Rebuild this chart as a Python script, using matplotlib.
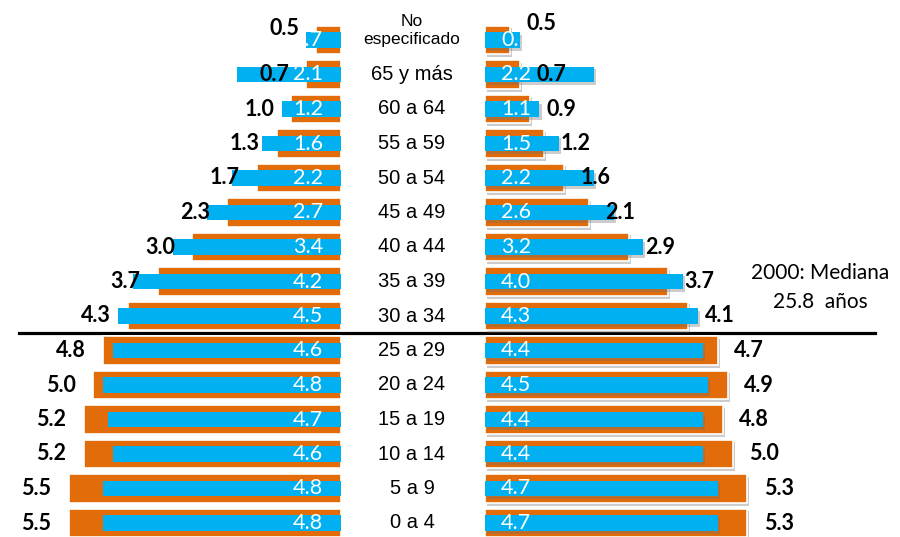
import matplotlib
matplotlib.use("Agg")
import matplotlib.pyplot as plt
import matplotlib.patheffects as pe
import matplotlib.transforms as mtransforms
from matplotlib.lines import Line2D

# age groups, read top to bottom as in the picture
grupos = ["No\nespecificado", "65 y más", "60 a 64", "55 a 59", "50 a 54",
          "45 a 49", "40 a 44", "35 a 39", "30 a 34", "25 a 29",
          "20 a 24", "15 a 19", "10 a 14", "5 a 9", "0 a 4"]
# orange = 2000, blue = later census (percent of population)
hombres_2000 = [0.5, 0.7, 1.0, 1.3, 1.7, 2.3, 3.0, 3.7, 4.3, 4.8, 5.0, 5.2, 5.2, 5.5, 5.5]
hombres_nuevo = [0.7, 2.1, 1.2, 1.6, 2.2, 2.7, 3.4, 4.2, 4.5, 4.6, 4.8, 4.7, 4.6, 4.8, 4.8]
mujeres_2000 = [0.5, 0.7, 0.9, 1.2, 1.6, 2.1, 2.9, 3.7, 4.1, 4.7, 4.9, 4.8, 5.0, 5.3, 5.3]
mujeres_nuevo = [0.7, 2.2, 1.1, 1.5, 2.2, 2.6, 3.2, 4.0, 4.3, 4.4, 4.5, 4.4, 4.4, 4.7, 4.7]
mediana_txt = "2000: Mediana\n25.8  años"

NARANJA = "#E36C0A"
AZUL = "#00B0F0"
W, H = 900, 537
PX_UNIT = 49.5      # pixels per percent point
ROW = 34.5          # pixels per row
Y0 = 523            # pixel row of the bottom group

n = len(grupos)
ys = [n - 1 - i for i in range(n)]
ylim = (-(H - Y0) / ROW, Y0 / ROW)

fig = plt.figure(figsize=(W / 100, H / 100), dpi=100)
fig.patch.set_facecolor("white")

x_left_end, x_right_start = 341, 485
ax_l = fig.add_axes([0, 0, x_left_end / W, 1])
ax_r = fig.add_axes([x_right_start / W, 0, 1 - x_right_start / W, 1])
ax_l.set_xlim(x_left_end / PX_UNIT, 0)
ax_r.set_xlim(0, (W - x_right_start) / PX_UNIT)
for ax in (ax_l, ax_r):
    ax.set_ylim(*ylim)
    ax.axis("off")
    ax.patch.set_alpha(0)

shadow = [pe.SimplePatchShadow(offset=(1.5, -2), shadow_rgbFace="#6e6e6e", alpha=0.35),
          pe.Normal()]

# left side (hombres)
ax_l.barh(ys, hombres_2000, height=0.84, color=NARANJA, edgecolor="white", linewidth=1.2, zorder=2)
ax_l.barh(ys, hombres_nuevo, height=0.46, color=AZUL, linewidth=0, zorder=3)

# right side (mujeres), with drop shadows
bo = ax_r.barh(ys, mujeres_2000, height=0.84, color=NARANJA, edgecolor="white", linewidth=1.2, zorder=2)
bb = ax_r.barh(ys, mujeres_nuevo, height=0.46, color=AZUL, linewidth=0, zorder=3)
for p in list(bo) + list(bb):
    p.set_path_effects(shadow)

lbl_font = dict(family=["Lato", "DejaVu Sans"], fontsize=15.5)
for i, y in enumerate(ys):
    top = 1 if i == 0 else 0
    ax_l.annotate(f"{hombres_nuevo[i]:.1f}", (0, y), xytext=(-13, 0), textcoords="offset points",
                  ha="right", va="center", color="white", zorder=4, **lbl_font)
    ax_r.annotate(f"{mujeres_nuevo[i]:.1f}", (0, y), xytext=(11.5, 0), textcoords="offset points",
                  ha="left", va="center", color="white", zorder=4, **lbl_font)
    ax_l.annotate(f"{hombres_2000[i]:.1f}", (hombres_2000[i], y), xytext=(-12.5, 8 * top),
                  textcoords="offset points", ha="right", va="center", color="black",
                  fontweight="bold", zorder=5, **lbl_font)
    ax_r.annotate(f"{mujeres_2000[i]:.1f}", (mujeres_2000[i], y), xytext=(12, 12 * top),
                  textcoords="offset points", ha="left", va="center", color="black",
                  fontweight="bold", zorder=5, **lbl_font)

# age group labels in the centre column
blend = mtransforms.blended_transform_factory(fig.transFigure, ax_l.transData)
for i, y in enumerate(ys):
    if i == 0:
        fig.text(412 / W, y + 0.27, grupos[i], transform=blend, ha="center", va="center",
                 family="Liberation Sans", fontsize=12.5, linespacing=1.25)
    else:
        fig.text(412 / W, y, grupos[i], transform=blend, ha="center", va="center",
                 family="Liberation Sans", fontsize=14.5)

# separator between 25-29 and 30-34
fig.add_artist(Line2D([19 / W, 875 / W], [5.5, 5.5], transform=blend, color="black",
                      linewidth=2.3, zorder=-1))

fig.text(820 / W, 1 - 287.5 / H, mediana_txt, ha="center", va="center",
         family=["Lato", "DejaVu Sans"], fontsize=15, linespacing=1.55)

fig.savefig("out.png", dpi=100, facecolor="white")
